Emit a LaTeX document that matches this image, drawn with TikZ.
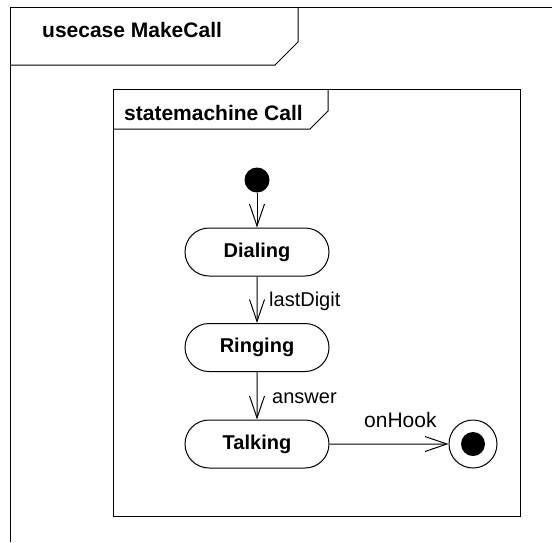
\documentclass[tikz,border=0pt]{standalone}
\usepackage{fontspec}
\setmainfont{Liberation Sans}
\usetikzlibrary{arrows.meta,shapes.misc}
\begin{document}
\begin{tikzpicture}[x=1pt,y=-1pt,
  frameline/.style={line width=1pt,draw=black},
  statebox/.style={rounded rectangle,draw,line width=1pt,minimum width=144pt,minimum height=48pt,inner sep=0pt,font=\fontsize{20}{24}\selectfont\bfseries},
  trans/.style={line width=1pt,-{Straight Barb[length=22pt,width=15pt,line width=1pt]}},
  lbl/.style={anchor=base west,inner sep=0pt,font=\fontsize{20}{24}\selectfont},
  ttl/.style={anchor=base west,inner sep=0pt,font=\fontsize{21}{25}\selectfont\bfseries}]
\useasboundingbox (0,0) rectangle (552,542);
% outer frame
\draw[frameline] (10,542) -- (10,7) -- (552,7);
\draw[frameline] (10,65) -- (275,65) -- (298,42) -- (298,7);
\node[ttl] (uctitle) at (42,37) {usecase MakeCall};
% statemachine frame
\draw[frameline] (113,89) rectangle (520,516);
\draw[frameline] (113,129) -- (310,129) -- (328,111) -- (328,89);
\node[ttl] (smtitle) at (124,120) {statemachine Call};
% states
\node[circle,fill=black,minimum size=25pt,inner sep=0pt] (init) at (257,180) {};
\node[statebox] (dialing) at (257,252) {Dialing};
\node[statebox] (ringing) at (257,347.5) {Ringing};
\node[statebox] (talking) at (257,444) {Talking};
\node[circle,draw,line width=1pt,minimum size=48pt,inner sep=0pt,
  path picture={\fill[black] (path picture bounding box.center) circle (12pt);}] (final) at (473,444) {};
% transitions
\draw[trans] (init) -- (dialing);
\draw[trans] (dialing) -- (ringing);
\draw[trans] (ringing) -- (talking);
\draw[trans] (talking) -- (final);
\node[lbl] (l1) at (269,306) {lastDigit};
\node[lbl] (l2) at (272,403) {answer};
\node[lbl,font=\fontsize{21}{25}\selectfont] (l3) at (364,427) {onHook};
\end{tikzpicture}
\end{document}
